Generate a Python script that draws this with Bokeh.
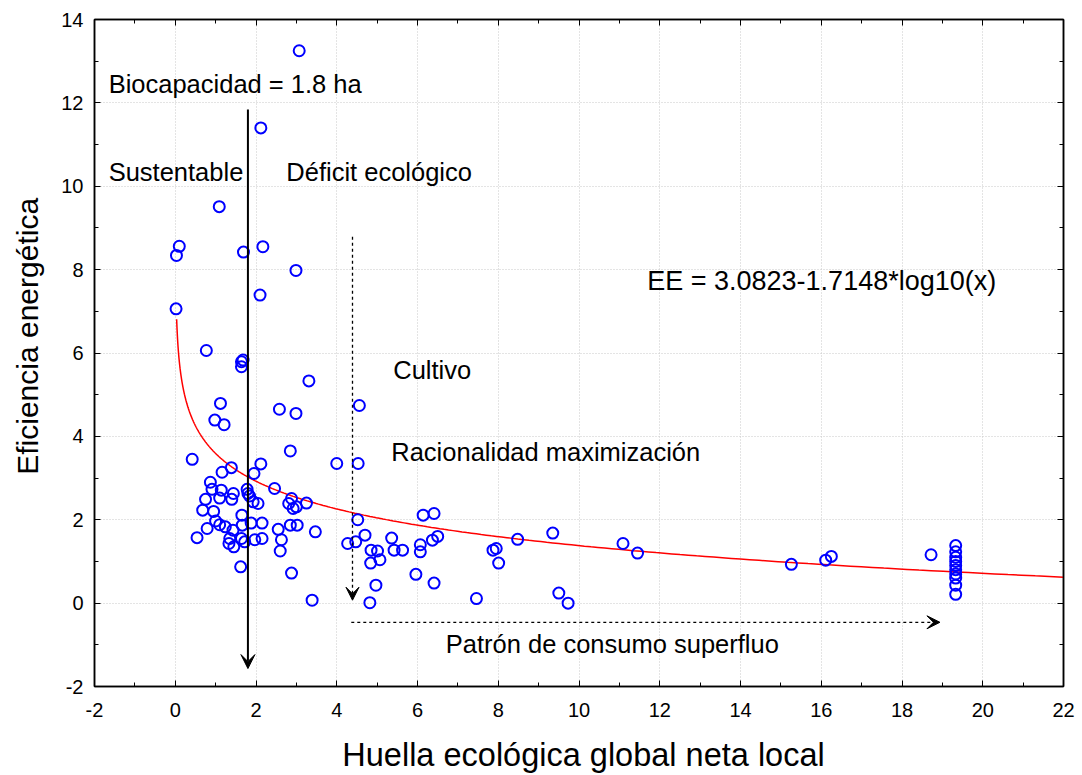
import numpy as np
from bokeh.plotting import figure
from bokeh.models import (ColumnDataSource, Arrow, VeeHead, LinearAxis, Range1d,
                          FixedTicker, CustomJSTickFormatter)
from bokeh.core.properties import value
from bokeh.embed import file_html
from bokeh.resources import INLINE

# ---- data ----
huella = [3.07, 2.12, 1.09, 0.10, 0.03, 1.69, 2.17, 2.99, 2.10, 0.02,
          0.77, 1.64, 1.68, 1.64, 3.31, 4.56, 2.58, 2.99, 1.12, 0.98,
          1.21, 2.85, 0.42, 2.12, 1.95, 1.39, 1.16, 4.00, 4.53, 0.87,
          0.91, 1.14, 1.44, 1.10, 0.75, 1.40, 1.78, 1.80, 1.84, 1.93,
          2.05, 2.46, 2.88, 2.81, 2.92, 3.00, 3.25, 0.68, 0.95, 1.65,
          1.00, 1.10, 1.24, 1.43, 1.66, 0.79, 1.88, 2.15, 2.55, 2.85,
          3.02, 3.47, 0.54, 1.35, 1.64, 1.72, 1.45, 1.33, 1.97, 2.15,
          2.63, 2.60, 1.62, 2.88, 3.39, 4.27, 4.47, 4.52, 4.70, 4.85,
          5.01, 4.84, 5.07, 4.97, 4.82, 5.36, 5.42, 5.63, 5.96, 6.07,
          6.07, 6.14, 6.41, 6.37, 6.50, 6.41, 7.46, 7.87, 7.95, 8.01,
          8.48, 9.35, 9.50, 9.73, 11.09, 11.45, 15.26, 16.11, 16.25, 18.72,
          19.33, 19.33, 19.33, 19.33, 19.33, 19.33, 19.33, 19.33, 19.33, 19.33]
eficiencia = [13.25, 11.40, 9.51, 8.56, 8.34, 8.42, 8.55, 7.98, 7.39, 7.06,
              6.06, 5.79, 5.83, 5.67, 5.33, 4.74, 4.65, 4.55, 4.79, 4.39,
              4.28, 3.65, 3.45, 3.34, 3.11, 3.25, 3.14, 3.35, 3.35, 2.90,
              2.73, 2.71, 2.63, 2.52, 2.49, 2.49, 2.73, 2.63, 2.57, 2.43,
              2.39, 2.75, 2.51, 2.39, 2.27, 2.31, 2.40, 2.23, 2.20, 2.11,
              1.97, 1.88, 1.83, 1.75, 1.87, 1.79, 1.92, 1.92, 1.77, 1.87,
              1.87, 1.71, 1.57, 1.55, 1.55, 1.47, 1.35, 1.43, 1.52, 1.55,
              1.52, 1.25, 0.87, 0.72, 0.07, 1.43, 1.47, 2.00, 1.63, 1.27,
              1.25, 0.96, 1.04, 0.43, 0.01, 1.56, 1.27, 1.27, 0.69, 1.40,
              1.23, 2.11, 2.15, 1.51, 1.60, 0.48, 0.11, 1.27, 1.31, 0.96,
              1.53, 1.68, 0.24, 0.00, 1.43, 1.20, 0.93, 1.03, 1.12, 1.16,
              1.38, 1.23, 1.10, 1.00, 0.90, 0.80, 0.70, 0.60, 0.43, 0.21]

# fitted logarithmic curve (as drawn)
fit_a = 3.59
fit_b = 2.21
fit_x_min = 0.035
fit_x_max = 22.0

x_ticks = list(range(-2, 23, 2))
y_ticks = list(range(-2, 15, 2))

biocapacidad = 1.8
bio_line_top, bio_line_bottom = 11.84, -1.57
cultivo_x, cultivo_top, cultivo_bottom = 4.39, 8.79, 0.07
patron_y, patron_left, patron_right = -0.46, 4.36, 18.94

labels_text = ["Biocapacidad = 1.8 ha", "Sustentable", "Déficit ecológico",
               "Cultivo", "Racionalidad maximización",
               "Patrón de consumo superfluo"]
labels_x = [-1.65, -1.65, 2.75, 5.40, 5.35, 6.70]
labels_y = [12.46, 10.34, 10.34, 5.59, 3.62, -0.97]

eq_text = ["EE = 3.0823-1.7148*log10(x)"]
eq_x = [11.69]
eq_y = [7.73]

FONT = "Liberation Sans"
NBSP = "\u00a0"

p = figure(width=1082, height=775, output_backend="svg", toolbar_location=None,
           x_range=Range1d(-2, 22), y_range=Range1d(-2, 14),
           min_border_left=94, min_border_right=19, min_border_top=19,
           min_border_bottom=89)
p.background_fill_color = "white"
p.border_fill_color = "white"
p.outline_line_color = "black"
p.outline_line_width = 1.5

# grid
for g, t in ((p.xgrid, x_ticks), (p.ygrid, y_ticks)):
    g.ticker = FixedTicker(ticks=t)
    g.grid_line_color = "#c8c8c8"
    g.grid_line_dash = "1 2"
    g.grid_line_width = 1

# axes
def style_axis(ax, ticks, show_labels):
    ax.ticker = FixedTicker(ticks=ticks,
                            minor_ticks=[v + 1 for v in ticks[:-1]])
    ax.axis_line_color = "black"
    ax.axis_line_width = 1.5
    ax.major_tick_in = 6
    ax.major_tick_out = 0
    ax.minor_tick_in = 4
    ax.minor_tick_out = 0
    ax.major_tick_line_color = "black"
    ax.minor_tick_line_color = "black"
    ax.major_label_text_font = FONT
    ax.major_label_text_font_size = "20px"
    ax.major_label_text_color = "black"
    if show_labels:
        ax.formatter = CustomJSTickFormatter(code="return String(tick)")
    else:
        ax.formatter = CustomJSTickFormatter(code="return ''")
        ax.major_label_standoff = 0

style_axis(p.xaxis[0], x_ticks, True)
style_axis(p.yaxis[0], y_ticks, True)
p.xaxis[0].major_label_standoff = 16
p.yaxis[0].major_label_standoff = 11
p.xaxis[0].axis_label = NBSP + "Huella ecológica global neta local"
p.yaxis[0].axis_label = NBSP * 4 + "Eficiencia energética"
for ax, fs, st in ((p.xaxis[0], "32.5px", 17), (p.yaxis[0], "30px", 14)):
    ax.axis_label_text_font = FONT
    ax.axis_label_text_font_size = fs
    ax.axis_label_text_font_style = "normal"
    ax.axis_label_text_color = "black"
    ax.axis_label_standoff = st

top_ax = LinearAxis()
right_ax = LinearAxis()
style_axis(top_ax, x_ticks, False)
style_axis(right_ax, y_ticks, False)
p.add_layout(top_ax, "above")
p.add_layout(right_ax, "right")

# fitted curve
fx = np.geomspace(fit_x_min, fit_x_max, 400)
fy = fit_a - fit_b * np.log10(fx)
p.line(fx, fy, line_color="red", line_width=1.5)

# arrows
p.add_layout(Arrow(end=VeeHead(size=14, fill_color="black", line_color="black"),
                   x_start=biocapacidad, y_start=bio_line_top,
                   x_end=biocapacidad, y_end=bio_line_bottom,
                   line_color="black", line_width=2))
p.add_layout(Arrow(end=VeeHead(size=13, fill_color="black", line_color="black"),
                   x_start=cultivo_x, y_start=cultivo_top,
                   x_end=cultivo_x, y_end=cultivo_bottom,
                   line_color="black", line_width=1.3, line_dash="3 3"))
p.add_layout(Arrow(end=VeeHead(size=13, fill_color="black", line_color="black"),
                   x_start=patron_left, y_start=patron_y,
                   x_end=patron_right, y_end=patron_y,
                   line_color="black", line_width=1.3, line_dash="3 3"))

# points
src = ColumnDataSource(dict(x=huella, y=eficiencia))
p.scatter("x", "y", source=src, marker="circle", size=11,
          fill_color=None, line_color="#0000ff", line_width=2)

# texts
tsrc = ColumnDataSource(dict(x=labels_x, y=labels_y, t=labels_text))
p.text("x", "y", text="t", source=tsrc, text_font=value(FONT),
       text_font_size="25.5px", text_align="left", text_baseline="middle",
       text_color="black")
esrc = ColumnDataSource(dict(x=eq_x, y=eq_y, t=eq_text))
p.text("x", "y", text="t", source=esrc, text_font=value(FONT),
       text_font_size="27px", text_align="left", text_baseline="middle",
       text_color="black")

open("out.html", "w").write(file_html(p, INLINE))
